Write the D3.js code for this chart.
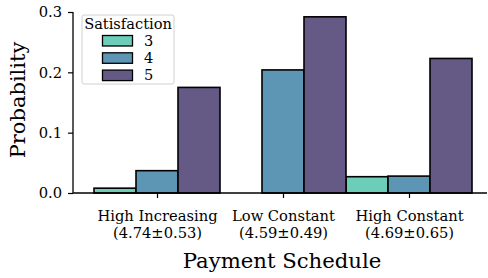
<!DOCTYPE html>
<html>
<head>
<meta charset="utf-8">
<script src="https://cdn.jsdelivr.net/npm/d3@7"></script>
<style>
  body { margin: 0; background: #fff; }
</style>
</head>
<body>
<div id="chart"></div>
<script>
// data
let schedules = ["High Increasing", "Low Constant", "High Constant"];
let scheduleStats = ["(4.74\u00b10.53)", "(4.59\u00b10.49)", "(4.69\u00b10.65)"];
let levels = ["3", "4", "5"];
let probs3 = [0.008, 0.0, 0.027];
let probs4 = [0.037, 0.204, 0.028];
let probs5 = [0.175, 0.292, 0.223];
let yTicks = [0.0, 0.1, 0.2, 0.3];
let colors = ["#6ccdb9", "#5d96b5", "#645a85"];

let FONT = "DejaVu Serif";
let w = 488, h = 278;
let svg = d3.select("#chart").append("svg")
  .attr("width", w)
  .attr("height", h)
  .attr("font-family", FONT);

// scales (category index -> pixel)
let x = d3.scaleLinear().domain([-0.5, 2.5]).range([94, 472]);
let y = d3.scaleLinear().domain([0, 0.3]).range([193, 12]);
let barW = (x(1) - x(0)) / 3;

let series = [probs3, probs4, probs5];
let bars = [];
series.forEach((vals, s) => {
  vals.forEach((v, i) => bars.push({ s: s, i: i, v: v }));
});

svg.append("g").selectAll("rect").data(bars).join("rect")
  .attr("x", d => x(d.i - 0.5) + d.s * barW)
  .attr("y", d => y(d.v))
  .attr("width", barW)
  .attr("height", d => y(0) - y(d.v))
  .attr("fill", d => colors[d.s])
  .attr("stroke", d => d.v > 0 ? "#000" : "none")
  .attr("stroke-width", 1.6);

// y axis
let yAxis = svg.append("g")
  .attr("transform", "translate(73,0)")
  .call(d3.axisLeft(y).tickValues(yTicks).tickFormat(d3.format(".1f")).tickSize(5).tickPadding(6))
  .attr("font-family", FONT)
  .attr("font-size", 14.7);
yAxis.select(".domain").attr("stroke-width", 1.3).attr("d", "M0," + y(0.3) + "V" + y(0));
yAxis.selectAll(".tick line").attr("stroke-width", 1.2);
yAxis.selectAll("text").attr("fill", "#000");

// x axis
let xAxis = svg.append("g")
  .attr("transform", "translate(0," + y(0) + ")")
  .call(d3.axisBottom(x).tickValues([0, 1, 2]).tickSize(5).tickFormat(""))
  .attr("font-family", FONT)
  .attr("font-size", 14.7);
xAxis.select(".domain").attr("stroke-width", 1.3).attr("d", "M73,0H487");
xAxis.selectAll(".tick line").attr("stroke-width", 1.2);
xAxis.selectAll(".tick").each(function(d) {
  let t = d3.select(this).append("text")
    .attr("fill", "#000")
    .attr("text-anchor", "middle");
  t.append("tspan").attr("x", 0).attr("y", 28).text(schedules[d]);
  t.append("tspan").attr("x", 0).attr("y", 44.7).text(scheduleStats[d]);
});

// axis titles
svg.append("text")
  .attr("x", 282).attr("y", 267.7)
  .attr("text-anchor", "middle")
  .attr("font-size", 21.2)
  .text("Payment Schedule");
svg.append("text")
  .attr("transform", "translate(25,100) rotate(-90)")
  .attr("text-anchor", "middle")
  .attr("font-size", 21)
  .text("Probability");

// legend
let lg = svg.append("g").attr("transform", "translate(82,15)");
lg.append("rect")
  .attr("width", 92).attr("height", 69)
  .attr("rx", 2)
  .attr("fill", "#fff").attr("fill-opacity", 0.8)
  .attr("stroke", "#d0d0d0").attr("stroke-width", 1);
lg.append("text")
  .attr("x", 46).attr("y", 13.5)
  .attr("text-anchor", "middle")
  .attr("font-size", 14.6)
  .text("Satisfaction");
levels.forEach((l, i) => {
  lg.append("rect")
    .attr("x", 20.5).attr("y", 20.5 + i * 17.3)
    .attr("width", 30).attr("height", 10.5)
    .attr("fill", colors[i])
    .attr("stroke", "#000").attr("stroke-width", 1.3);
  lg.append("text")
    .attr("x", 62).attr("y", 30.7 + i * 17.3)
    .attr("font-size", 14.6)
    .text(l);
});
</script>
</body>
</html>
